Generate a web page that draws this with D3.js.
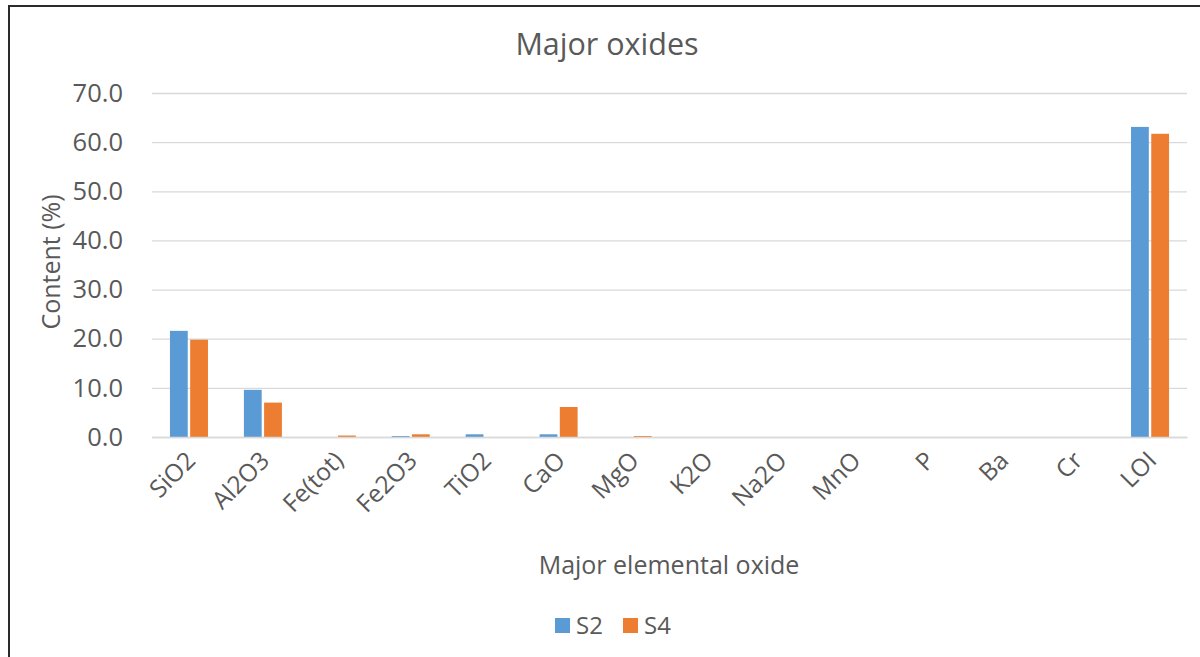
<!DOCTYPE html>
<html>
<head>
<meta charset="utf-8">
<script src="https://cdn.jsdelivr.net/npm/d3@7"></script>
<style>
  html, body { margin: 0; padding: 0; background: #fff; }
  svg { display: block; }
  text { font-family: "Open Sans", "Noto Sans", sans-serif; fill: #595959; }
</style>
</head>
<body>
<svg id="chart" width="1200" height="657"></svg>
<script>
// Oxide categories on the x axis
const categories = ["SiO2", "Al2O3", "Fe(tot)", "Fe2O3", "TiO2", "CaO", "MgO",
                    "K2O", "Na2O", "MnO", "P", "Ba", "Cr", "LOI"];
// Content (%) per sample
const seriesNames = ["S2", "S4"];
const s2Values = [21.6, 9.6, 0.0, 0.2, 0.55, 0.55, 0.0, 0.0, 0.0, 0.0, 0.0, 0.0, 0.0, 63.1];
const s4Values = [19.8, 7.0, 0.3, 0.55, 0.0, 6.1, 0.2, 0.0, 0.0, 0.0, 0.0, 0.0, 0.0, 61.7];
const yTicks = [0, 10, 20, 30, 40, 50, 60, 70];
const colors = { S2: "#5B9BD5", S4: "#ED7D31" };

const svg = d3.select("#chart");
const W = 1200, H = 657;
const plot = { left: 152, right: 1187, top: 93, bottom: 437 };

// Outer frame (top and left edges visible)
svg.append("rect")
  .attr("x", 9).attr("y", 6)
  .attr("width", W + 20).attr("height", H + 20)
  .attr("fill", "#fff")
  .attr("stroke", "#2b2b2b").attr("stroke-width", 2);

const x = d3.scaleBand().domain(categories).range([plot.left, plot.right]);
const bw = x.bandwidth();
const xSub = d3.scaleBand().domain(seriesNames)
  .range([bw * 0.243, bw * 0.757]).paddingInner(0.12);
const y = d3.scaleLinear().domain([0, 70]).range([plot.bottom, plot.top]);

// Horizontal gridlines
const yAxis = d3.axisLeft(y).tickValues(yTicks)
  .tickSize(-(plot.right - plot.left)).tickPadding(29)
  .tickFormat(d3.format(".1f"));
const gy = svg.append("g")
  .attr("transform", `translate(${plot.left},0)`)
  .call(yAxis);
gy.select(".domain").remove();
gy.selectAll(".tick line").attr("stroke", "#d9d9d9").attr("stroke-width", 1.3);
gy.selectAll(".tick text")
  .attr("font-size", 25.5).attr("fill", "#595959")
  .style("font-family", '"Open Sans", sans-serif');

// Bars
const rows = categories.map((c, i) => ({ cat: c, S2: s2Values[i], S4: s4Values[i] }));
const groups = svg.append("g").selectAll("g")
  .data(rows).join("g")
  .attr("transform", d => `translate(${x(d.cat)},0)`);
groups.selectAll("rect")
  .data(d => seriesNames.map(k => ({ key: k, value: d[k] })))
  .join("rect")
  .attr("x", d => xSub(d.key))
  .attr("width", xSub.bandwidth())
  .attr("y", d => y(d.value))
  .attr("height", d => y(0) - y(d.value))
  .attr("fill", d => colors[d.key]);

// Category axis
const xAxis = d3.axisBottom(x).tickSize(0).tickPadding(0);
const gx = svg.append("g")
  .attr("transform", `translate(0,${plot.bottom})`)
  .call(xAxis);
gx.select(".domain").attr("stroke", "#d9d9d9").attr("stroke-width", 1.3);
gx.selectAll(".tick text")
  .attr("font-size", 24.5).attr("fill", "#595959")
  .style("font-family", '"Open Sans", sans-serif')
  .attr("text-anchor", "end")
  .attr("dy", "0")
  .attr("transform", "translate(8,25) rotate(-45)");

// Title
svg.append("text")
  .attr("x", 607).attr("y", 55)
  .attr("text-anchor", "middle")
  .attr("font-size", 30.5)
  .text("Major oxides");

// Axis titles
svg.append("text")
  .attr("transform", "translate(60,262) rotate(-90)")
  .attr("text-anchor", "middle")
  .attr("font-size", 25)
  .text("Content (%)");

svg.append("text")
  .attr("x", 669).attr("y", 574)
  .attr("text-anchor", "middle")
  .attr("font-size", 25)
  .text("Major elemental oxide");

// Legend
const legend = svg.append("g").attr("transform", "translate(555,618)");
const items = legend.selectAll("g").data(seriesNames).join("g")
  .attr("transform", (d, i) => `translate(${i * 68},0)`);
items.append("rect")
  .attr("width", 15).attr("height", 15)
  .attr("fill", d => colors[d]);
items.append("text")
  .attr("x", 21).attr("y", 16)
  .attr("font-size", 24)
  .text(d => d);
</script>
</body>
</html>
